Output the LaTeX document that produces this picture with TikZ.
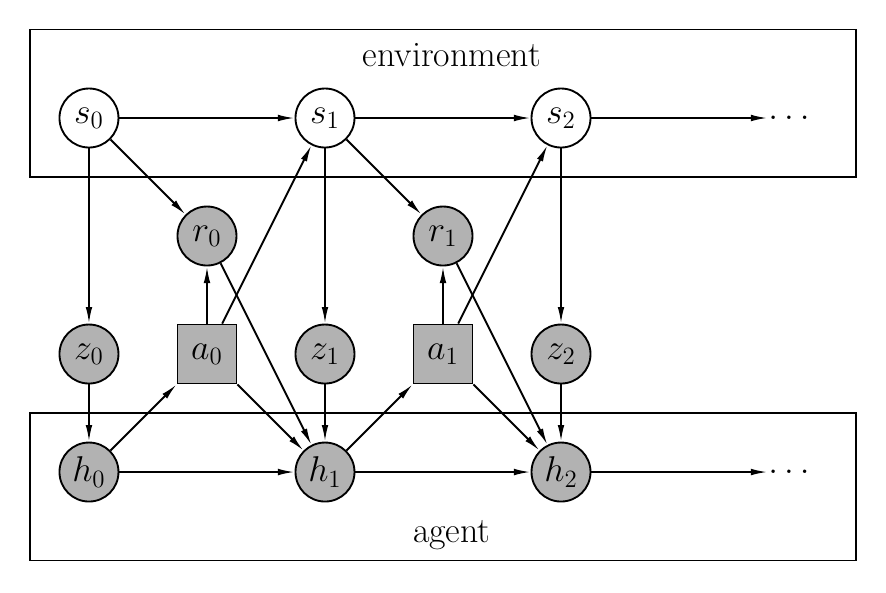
\documentclass[tikz,border=0pt]{standalone}
\usetikzlibrary{arrows.meta}

\begin{document}
\begin{tikzpicture}[line width=0.9pt, >={Latex[length=8pt,width=3.2pt]}, font=\LARGE,
    var/.style={circle, draw, minimum size=1cm, inner sep=0pt},
    obs/.style={var, fill=gray!60},
    act/.style={rectangle, draw, fill=gray!60, minimum size=1cm, inner sep=0pt}]

    % constants
    \def\dx{2}
    \def\dy{2}

    \useasboundingbox (-1.508,2.0) rectangle (13.508,-8.034);

    % environment and agent boxes
    \draw (-1,1.5) rectangle (13,-1);
    \draw (-1,-5) rectangle (13,-7.5);
    \node (env) at (6.15,1.07) {environment};
    \node (agt) at (6.15,-7.07) {agent};

    % states
    \node[var] (s0) at (0,0) {$s_0$};
    \node[var] (s1) at (2*\dx,0) {$s_1$};
    \node[var] (s2) at (4*\dx,0) {$s_2$};
    \node[anchor=west, inner sep=0pt] (sd) at (11.5,0) {$\dots$};

    % rewards
    \node[obs] (r0) at (\dx,-\dy) {$r_0$};
    \node[obs] (r1) at (3*\dx,-\dy) {$r_1$};

    % observations and actions
    \node[obs] (z0) at (0,-2*\dy) {$z_0$};
    \node[act] (a0) at (\dx,-2*\dy) {$a_0$};
    \node[obs] (z1) at (2*\dx,-2*\dy) {$z_1$};
    \node[act] (a1) at (3*\dx,-2*\dy) {$a_1$};
    \node[obs] (z2) at (4*\dx,-2*\dy) {$z_2$};

    % agent states
    \node[obs] (h0) at (0,-3*\dy) {$h_0$};
    \node[obs] (h1) at (2*\dx,-3*\dy) {$h_1$};
    \node[obs] (h2) at (4*\dx,-3*\dy) {$h_2$};
    \node[anchor=west, inner sep=0pt] (hd) at (11.5,-3*\dy) {$\dots$};

    % environment transitions
    \draw[->] (s0) -- (s1);
    \draw[->] (s1) -- (s2);
    \draw[->] (s2) -- (sd);
    \draw[->] (s0) -- (r0);
    \draw[->] (s1) -- (r1);
    \draw[->] (s0) -- (z0);
    \draw[->] (s1) -- (z1);
    \draw[->] (s2) -- (z2);

    % actions
    \draw[->] (a0) -- (r0);
    \draw[->] (a1) -- (r1);
    \draw[->] (a0) -- (s1);
    \draw[->] (a1) -- (s2);
    \draw[->] (a0) -- (h1);
    \draw[->] (a1) -- (h2);

    % agent updates
    \draw[->] (z0) -- (h0);
    \draw[->] (z1) -- (h1);
    \draw[->] (z2) -- (h2);
    \draw[->] (r0) -- (h1);
    \draw[->] (r1) -- (h2);
    \draw[->] (h0) -- (a0);
    \draw[->] (h1) -- (a1);
    \draw[->] (h0) -- (h1);
    \draw[->] (h1) -- (h2);
    \draw[->] (h2) -- (hd);

\end{tikzpicture}
\end{document}
